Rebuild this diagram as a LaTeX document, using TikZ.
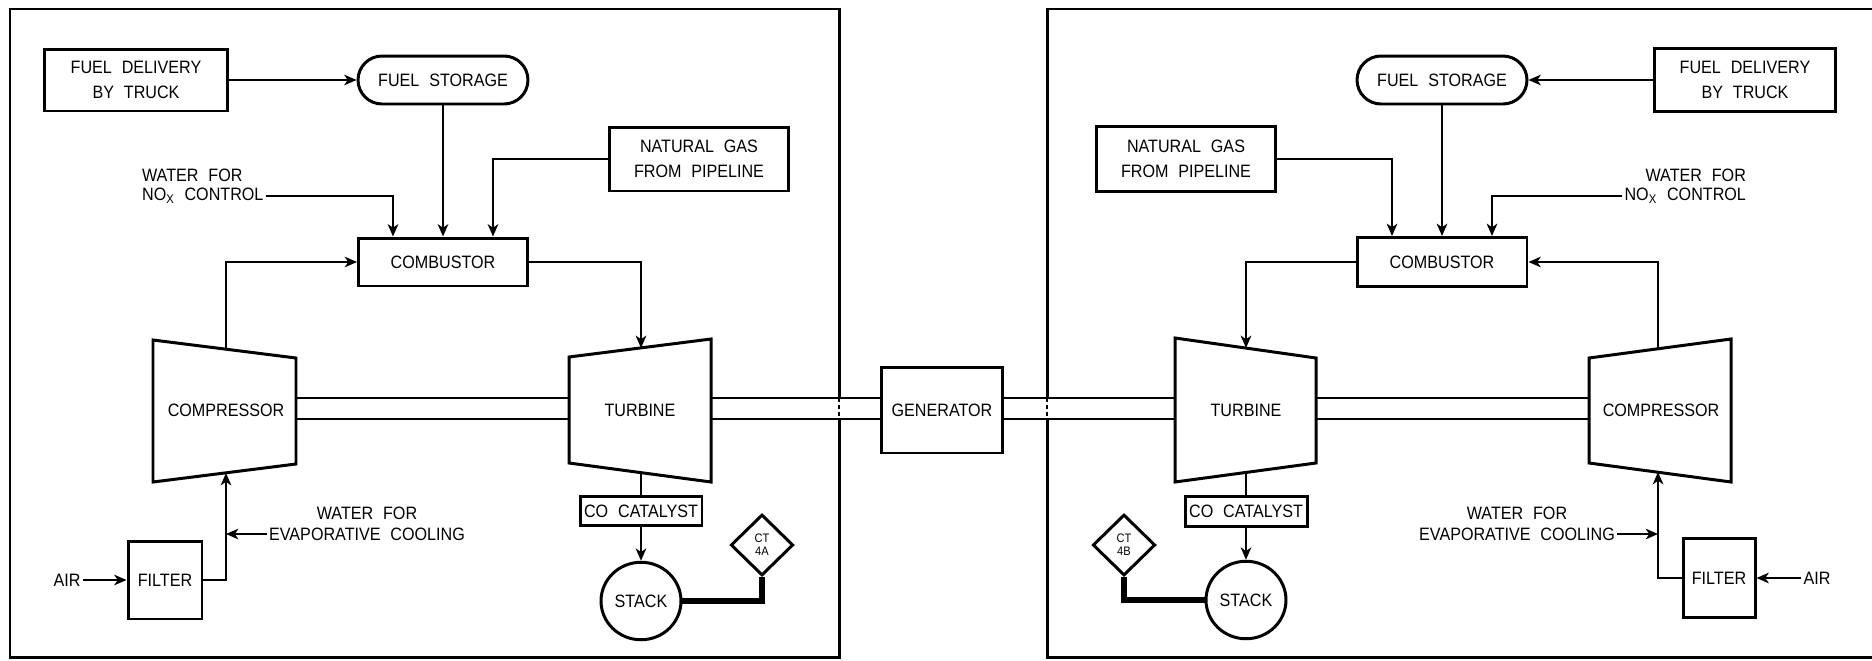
\documentclass[tikz,border=0pt]{standalone}
\usepackage{fontspec}
\setmainfont{Liberation Sans}[FakeStretch=0.9, WordSpace=2.2]
\usetikzlibrary{positioning}
\usetikzlibrary{shapes.geometric}
\usetikzlibrary{shapes.misc}
\usetikzlibrary {arrows.meta}

\begin{document}
\begin{tikzpicture}[
	x=0.02cm, y=-0.02cm,
	font=\fontsize{10.2}{12}\selectfont,
	box/.style	= {rectangle, draw, line width=1.7pt, align=center, inner sep=0pt},
	tank/.style	= {rounded rectangle, draw, line width=1.7pt, minimum width=3.4cm, minimum height=0.96cm, inner sep=0pt},
	stk/.style	= {ellipse, draw, line width=1.7pt, minimum width=1.6cm, minimum height=1.55cm, inner sep=0pt},
	dia/.style	= {diamond, draw, line width=1.7pt, minimum width=1.25cm, minimum height=1.22cm, inner sep=0pt, align=center, font=\fontsize{7}{7.5}\selectfont},
	lbl/.style	= {inner sep=1pt, align=center},
	unit/.style	= {draw, line width=1.7pt, fill=white},
	frame/.style	= {line width=1.7pt},
	shaft/.style	= {line width=1.2pt},
	gap/.style	= {line width=0.8pt, dash pattern=on 2pt off 2pt},
	feed/.style	= {line width=1.2pt},
	link/.style	= {-{Stealth[length=7pt, width=6pt, inset=2pt]}, line width=1.2pt},
	vent/.style	= {line width=3pt}
	]

	\useasboundingbox (0,0) rectangle (1872,660);

	%Frames
	\draw[frame] (10,9) rectangle (839,657);
	\draw[frame] (1872,9) -| (1047,657) -- (1872,657);

	%Shaft
	\foreach \xa/\xb in {296/569, 711/882, 1003/1175, 1316/1589}{
		\fill[white] (\xa,398) rectangle (\xb,419);
		\draw[shaft] (\xa,398) -- (\xb,398) (\xa,419) -- (\xb,419);
	}
	\draw[gap] (839,398) -- (839,419);
	\draw[gap] (1047,398) -- (1047,419);

	%Machines
	\draw[unit] (153,340) -- (296,358) -- (296,464) -- (153,482) -- cycle;
	\draw[unit] (569,357) -- (711,339) -- (711,482) -- (569,463) -- cycle;
	\draw[unit] (1175,338) -- (1316,358) -- (1316,463) -- (1175,482) -- cycle;
	\draw[unit] (1589,358) -- (1731,339) -- (1731,482) -- (1589,463) -- cycle;

	\coordinate (cmpL-t)	at (226,349);
	\coordinate (cmpL-b)	at (226,473);
	\coordinate (trbL-t)	at (641,348);
	\coordinate (trbL-b)	at (641,473);
	\coordinate (trbR-t)	at (1246,348);
	\coordinate (trbR-b)	at (1246,472);
	\coordinate (cmpR-t)	at (1658,349);
	\coordinate (cmpR-b)	at (1658,472);
	\coordinate (evL)		at (226,534);
	\coordinate (evR)		at (1658,534);

	%Nodes left
	\node[lbl]	(cmpL)	at (226,410)	{COMPRESSOR};
	\node[lbl]	(trbL)	at (640,410)	{TURBINE};
	\node[box, minimum width=3.68cm, minimum height=1.24cm]	(fuelL)	at (136,80)	{FUEL DELIVERY\\[2pt]BY TRUCK};
	\node[tank]	(storL)	at (443,80)	{FUEL STORAGE};
	\node[box, minimum width=3.58cm, minimum height=1.28cm]	(gasL)	at (699,159)	{NATURAL GAS\\[2pt]FROM PIPELINE};
	\node[box, minimum width=3.38cm, minimum height=0.96cm]	(combL)	at (443,262)	{COMBUSTOR};
	\node[box, minimum width=2.44cm, minimum height=0.58cm]	(coL)	at (641,511)	{CO CATALYST};
	\node[stk]	(stkL)	at (641,601)	{STACK};
	\node[dia]	(ctL)	at (762,545)	{CT\\4A};
	\node[box, minimum width=1.48cm, minimum height=1.56cm]	(filL)	at (165,580)	{FILTER};
	\node[lbl]	(airL)	at (67,580)	{AIR};
	\node[lbl, anchor=west]	(noxL1)	at (140,175)	{WATER FOR};
	\node[lbl, anchor=west]	(noxL2)	at (140,196)	{NO\textsubscript{X} CONTROL};
	\node[lbl]	(evapL1)	at (367,513)	{WATER FOR};
	\node[lbl]	(evapL2)	at (367,534)	{EVAPORATIVE COOLING};

	%Generator
	\node[box, minimum width=2.42cm, minimum height=1.72cm]	(gen)	at (942,410)	{GENERATOR};

	%Nodes right
	\node[lbl]	(trbR)	at (1246,410)	{TURBINE};
	\node[lbl]	(cmpR)	at (1661,410)	{COMPRESSOR};
	\node[box, minimum width=3.62cm, minimum height=1.26cm]	(fuelR)	at (1745,80)	{FUEL DELIVERY\\[2pt]BY TRUCK};
	\node[tank]	(storR)	at (1442,80)	{FUEL STORAGE};
	\node[box, minimum width=3.58cm, minimum height=1.3cm]	(gasR)	at (1186,159)	{NATURAL GAS\\[2pt]FROM PIPELINE};
	\node[box, minimum width=3.4cm, minimum height=0.98cm]	(combR)	at (1442,262)	{COMBUSTOR};
	\node[box, minimum width=2.44cm, minimum height=0.6cm]	(coR)	at (1246,511)	{CO CATALYST};
	\node[stk]	(stkR)	at (1246,600)	{STACK};
	\node[dia]	(ctR)	at (1124,545)	{CT\\4B};
	\node[box, minimum width=1.44cm, minimum height=1.58cm]	(filR)	at (1719,578)	{FILTER};
	\node[lbl]	(airR)	at (1817,578)	{AIR};
	\node[lbl, anchor=east]	(noxR1)	at (1748,175)	{WATER FOR};
	\node[lbl, anchor=east]	(noxR2)	at (1748,196)	{NO\textsubscript{X} CONTROL};
	\node[lbl]	(evapR1)	at (1517,513)	{WATER FOR};
	\node[lbl]	(evapR2)	at (1517,534)	{EVAPORATIVE COOLING};

	%Lines left
	\draw[link]	(fuelL.east)	--	(storL.west);
	\draw[link]	(storL.south)	--	(combL.north);
	\draw[link]	(gasL.west)		-|	([xshift=1cm]combL.north);
	\draw[link]	(noxL2.east)	-|	([xshift=-1cm]combL.north);
	\draw[link]	(cmpL-t)		|-	(combL.west);
	\draw[link]	(combL.east)	-|	(trbL-t);
	\draw[feed]	(trbL-b)		--	(coL.north);
	\draw[link]	(coL.south)		--	(stkL.north);
	\draw[vent]	(stkL.east)		-|	(ctL.south);
	\draw[link]	(airL.east)		--	(filL.west);
	\draw[link]	(filL.east)		-|	(cmpL-b);
	\draw[link]	(evapL2.west)	--	(evL);

	%Lines right
	\draw[link]	(fuelR.west)	--	(storR.east);
	\draw[link]	(storR.south)	--	(combR.north);
	\draw[link]	(gasR.east)		-|	([xshift=-1cm]combR.north);
	\draw[link]	(noxR2.west)	-|	([xshift=1cm]combR.north);
	\draw[link]	(cmpR-t)		|-	(combR.east);
	\draw[link]	(combR.west)	-|	(trbR-t);
	\draw[feed]	(trbR-b)		--	(coR.north);
	\draw[link]	(coR.south)		--	(stkR.north);
	\draw[vent]	(stkR.west)		-|	(ctR.south);
	\draw[link]	(airR.west)		--	(filR.east);
	\draw[link]	(filR.west)		-|	(cmpR-b);
	\draw[link]	(evapR2.east)	--	(evR);

\end{tikzpicture}
\end{document}
